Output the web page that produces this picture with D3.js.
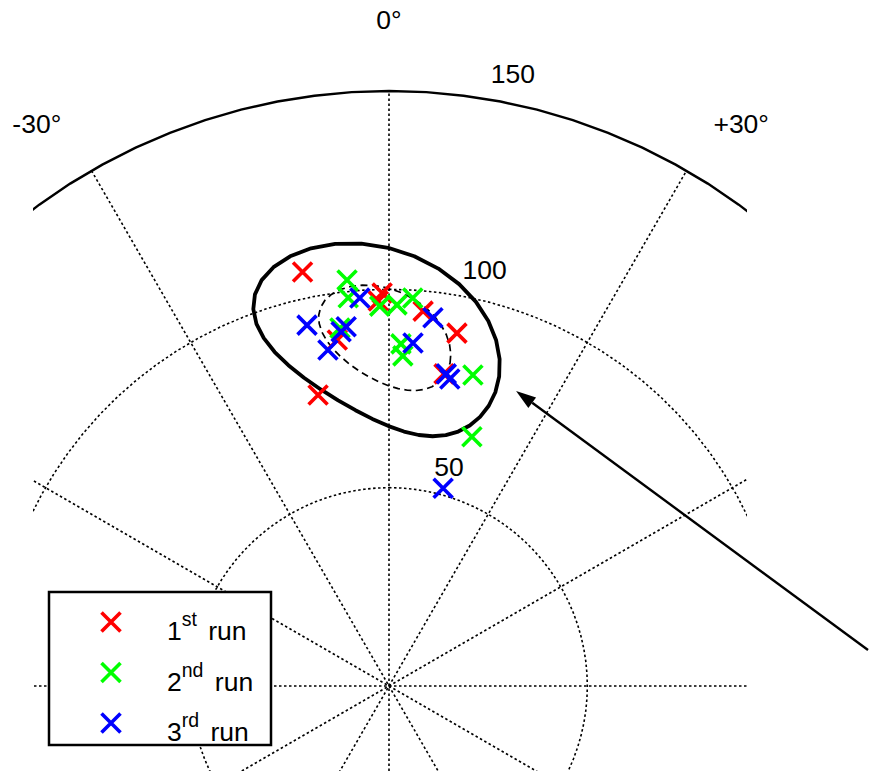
<!DOCTYPE html>
<html>
<head>
<meta charset="utf-8">
<script src="https://cdn.jsdelivr.net/npm/d3@7"></script>
<style>
  body { margin: 0; background: #fff; }
  svg { display: block; }
  text { font-family: "Liberation Sans", Arial, sans-serif; fill: #000; }
</style>
</head>
<body>
<svg id="chart" width="872" height="771"></svg>
<script>
// Localisation results: azimuth in degrees (clockwise from straight ahead) and distance
const run1Azimuth  = [-11.8, -1.0, -1.6, 5.2, 10.9, -8.5, 10.0, -13.7];
const run1Distance = [106.6, 99.1, 97.1, 94.9, 90.6, 88.2, 79.9, 75.5];

const run2Azimuth  = [-5.9, -6.0, -1.4, 1.2, 3.5, -7.8, 2.0, 2.4, 15.1, 18.4];
const run2Distance = [102.9, 98.4, 95.8, 96.1, 98.0, 91.1, 86.3, 83.3, 81.2, 66.2];

const run3Azimuth  = [-12.8, -4.3, 6.8, -6.8, -7.7, -10.3, 4.0, 10.4, 11.2, 15.3];
const run3Distance = [93.3, 98.1, 93.5, 91.2, 90.1, 86.1, 86.7, 80.0, 78.9, 51.7];

const runOrdinals = ["1", "2", "3"];
const runSuffixes = ["st", "nd", "rd"];
const runColors = ["#ff0000", "#00ff00", "#0000ff"];

// Grid
const radialTicks = [50, 100, 150];
const spokeAngles = [0, 30, 60, 90, 120, 150];
const angleTicks = [-30, 0, 30];
const angleTickLabels = ["-30°", "0°", "+30°"];

// Spread region in (azimuth, distance): centre, half-extents per contour, correlation
const regionCentre = [-0.1, 88];
const regionHalfExtents = [[20, 24.3], [10.8, 13.3]];
const regionCorrelation = -0.38;

// Annotation arrow, in (azimuth, distance)
const arrowFrom = [85.7, 121.1];
const arrowTo = [23.3, 81.0];

// ---------------------------------------------------------------------------
const width = 872, height = 771;
const cx = 389, cy = 686;
const rMax = 150;
const rScale = d3.scaleLinear().domain([0, rMax]).range([0, 595]);
const rad = d => d * Math.PI / 180;
const toXY = (az, dist) => [cx + rScale(dist) * Math.sin(rad(az)), cy - rScale(dist) * Math.cos(rad(az))];

const svg = d3.select("#chart");
svg.append("rect").attr("width", width).attr("height", height).attr("fill", "#fff");

svg.append("defs").append("clipPath").attr("id", "plotClip")
  .append("rect").attr("x", 33).attr("y", 0).attr("width", 714).attr("height", height);

const plot = svg.append("g").attr("clip-path", "url(#plotClip)");
const polar = plot.append("g").attr("transform", `translate(${cx},${cy})`);

const ring = d3.lineRadial()
  .angle(d => d[0])
  .radius(d => d[1])
  .curve(d3.curveLinearClosed);

// Spokes (full diameters through the origin)
polar.selectAll("line.spoke").data(spokeAngles).join("line")
  .attr("class", "spoke")
  .attr("x1", d => -rScale(rMax) * Math.sin(rad(d)))
  .attr("y1", d => rScale(rMax) * Math.cos(rad(d)))
  .attr("x2", d => rScale(rMax) * Math.sin(rad(d)))
  .attr("y2", d => -rScale(rMax) * Math.cos(rad(d)))
  .attr("stroke", "#000").attr("stroke-width", 1.6)
  .attr("stroke-dasharray", "2.5,2.5");

// Range rings, 100-sided like the classic polar frame; the outermost is solid
polar.selectAll("path.ring").data(radialTicks).join("path")
  .attr("class", "ring")
  .attr("d", t => ring(d3.range(100).map(i => [i * 2 * Math.PI / 100, rScale(t)])))
  .attr("fill", "none")
  .attr("stroke", "#000")
  .attr("stroke-width", t => t === rMax ? 2.4 : 1.6)
  .attr("stroke-dasharray", t => t === rMax ? null : "2.5,2.5");

// Spread contours
const delta = Math.acos(regionCorrelation);
const contour = ext => d3.range(36).map(i => {
  const t = i * 2 * Math.PI / 36;
  const az = regionCentre[0] + ext[0] * Math.cos(t);
  const dist = regionCentre[1] + ext[1] * Math.cos(t - delta);
  return [rad(az), rScale(dist)];
});
polar.selectAll("path.region").data(regionHalfExtents).join("path")
  .attr("class", "region")
  .attr("d", ext => ring(contour(ext)))
  .attr("fill", "none")
  .attr("stroke", "#000")
  .attr("stroke-width", (d, i) => i === 0 ? 3.8 : 1.7)
  .attr("stroke-dasharray", (d, i) => i === 0 ? null : "7,4.5")
  .attr("stroke-linejoin", "round");

// Responses
const runs = [
  d3.zip(run1Azimuth, run1Distance),
  d3.zip(run2Azimuth, run2Distance),
  d3.zip(run3Azimuth, run3Distance)
];
const cross = s => `M${-s},${-s}L${s},${s}M${-s},${s}L${s},${-s}`;
runs.forEach((pts, k) => {
  plot.append("g").selectAll("path").data(pts).join("path")
    .attr("transform", d => `translate(${toXY(d[0], d[1])})`)
    .attr("d", cross(9.5))
    .attr("stroke", runColors[k])
    .attr("stroke-width", 3.6)
    .attr("fill", "none");
});

// Distance tick labels
radialTicks.forEach(t => {
  svg.append("text")
    .attr("x", cx + rScale(t) * Math.sin(rad(8.2)) + 17)
    .attr("y", cy - rScale(t) * Math.cos(rad(8.2)) - 14)
    .attr("font-size", 26.5)
    .text(t);
});

// Azimuth labels
angleTicks.forEach((a, i) => {
  const R = rScale(168);
  svg.append("text")
    .attr("x", cx + R * Math.sin(rad(a)) + Math.sign(a) * 19)
    .attr("y", cy - R * Math.cos(rad(a)) + (a === 0 ? 0 : 15) + 9)
    .attr("text-anchor", "middle")
    .attr("font-size", 26.5)
    .text(angleTickLabels[i]);
});

// Arrow pointing at the spread region
const [ax1, ay1] = toXY(arrowFrom[0], arrowFrom[1]);
const [ax2, ay2] = toXY(arrowTo[0], arrowTo[1]);
const ang = Math.atan2(ay2 - ay1, ax2 - ax1);
const headLen = 20, headHalf = 6.5;
const bx = ax2 - headLen * Math.cos(ang), by = ay2 - headLen * Math.sin(ang);
svg.append("line")
  .attr("x1", ax1).attr("y1", ay1).attr("x2", bx).attr("y2", by)
  .attr("stroke", "#000").attr("stroke-width", 2.4);
svg.append("path")
  .attr("d", `M${ax2},${ay2}L${bx - headHalf * Math.sin(ang)},${by + headHalf * Math.cos(ang)}L${bx + headHalf * Math.sin(ang)},${by - headHalf * Math.cos(ang)}Z`)
  .attr("fill", "#000");

// Legend
const legend = svg.append("g");
legend.append("rect")
  .attr("x", 49).attr("y", 592).attr("width", 222).attr("height", 153)
  .attr("fill", "#fff").attr("stroke", "#000").attr("stroke-width", 2.5);
runOrdinals.forEach((n, i) => {
  const y0 = 622 + i * 50.5;
  legend.append("path")
    .attr("transform", `translate(111,${y0})`)
    .attr("d", cross(9.5))
    .attr("stroke", runColors[i]).attr("stroke-width", 3.6).attr("fill", "none");
  const txt = legend.append("text")
    .attr("x", 167).attr("y", y0 + 18).attr("font-size", 26.5);
  txt.append("tspan").text(n);
  txt.append("tspan").attr("font-size", 19.5).attr("dy", -14).text(runSuffixes[i]);
  txt.append("tspan").attr("dy", 14).attr("dx", 4).text(" run");
});
</script>
</body>
</html>
